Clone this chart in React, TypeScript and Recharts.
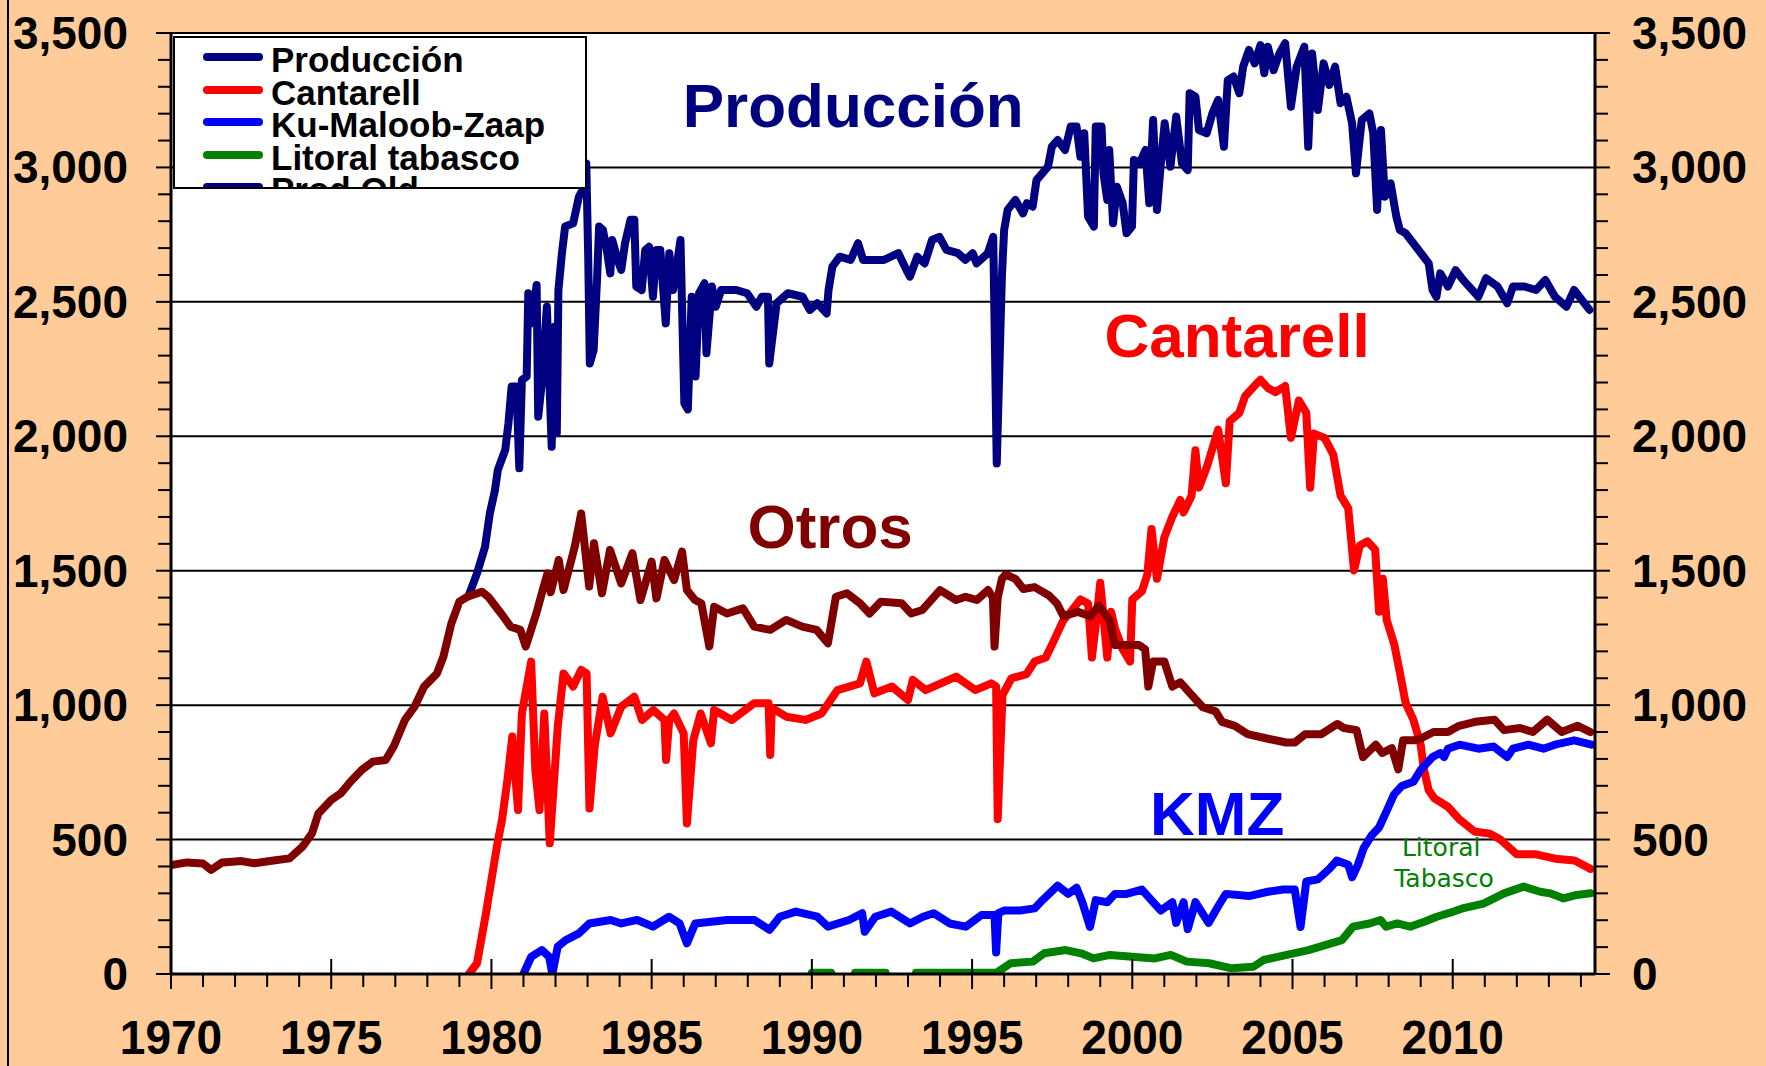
import { LineChart, Line, XAxis, YAxis, CartesianGrid, ReferenceLine, ReferenceDot } from 'recharts';

// [año, miles de barriles diarios]
const produccion: [number, number][] = [
  [1979.3, 1410], [1979.55, 1490], [1979.8, 1589], [1979.95, 1713], [1980.11, 1800], [1980.2, 1875],
  [1980.43, 1949], [1980.53, 2048], [1980.63, 2185], [1980.78, 2185], [1980.87, 1881], [1980.95, 2209],
  [1981.1, 2222], [1981.15, 2532], [1981.26, 2420], [1981.41, 2563], [1981.46, 2073], [1981.57, 2197],
  [1981.73, 2482], [1981.88, 1961], [1981.98, 2408], [1982.04, 2011], [1982.09, 2544], [1982.2, 2681],
  [1982.3, 2780], [1982.55, 2792], [1982.73, 2891], [1982.84, 2916], [1982.96, 3015], [1983.02, 2668],
  [1983.07, 2271], [1983.19, 2321], [1983.3, 2594], [1983.36, 2780], [1983.48, 2767], [1983.6, 2693],
  [1983.71, 2606], [1983.77, 2730], [1983.94, 2656], [1984.05, 2619], [1984.17, 2718], [1984.34, 2805],
  [1984.46, 2805], [1984.52, 2557], [1984.69, 2544], [1984.8, 2693], [1984.92, 2705], [1985.04, 2519],
  [1985.15, 2693], [1985.27, 2693], [1985.44, 2420], [1985.55, 2681], [1985.67, 2544], [1985.9, 2730],
  [1986.02, 2123], [1986.13, 2100], [1986.25, 2519], [1986.37, 2222], [1986.48, 2532], [1986.65, 2569],
  [1986.71, 2309], [1986.88, 2557], [1987.0, 2482], [1987.17, 2544], [1987.64, 2544], [1987.98, 2532],
  [1988.27, 2482], [1988.44, 2519], [1988.63, 2519], [1988.67, 2271], [1988.9, 2495], [1989.25, 2532],
  [1989.71, 2519], [1989.94, 2470], [1990.17, 2495], [1990.46, 2457], [1990.52, 2544], [1990.64, 2631],
  [1990.87, 2668], [1991.21, 2656], [1991.44, 2718], [1991.6, 2656], [1992.25, 2656], [1992.7, 2681],
  [1992.95, 2619], [1993.06, 2594], [1993.29, 2668], [1993.52, 2643], [1993.75, 2730], [1993.98, 2742],
  [1994.2, 2693], [1994.56, 2681], [1994.79, 2656], [1995.02, 2681], [1995.14, 2643], [1995.49, 2681],
  [1995.66, 2742], [1995.77, 1899], [1995.93, 2594], [1996.0, 2767], [1996.11, 2842], [1996.35, 2879],
  [1996.59, 2829], [1996.71, 2867], [1996.89, 2854], [1997.01, 2953], [1997.19, 2978], [1997.37, 3003],
  [1997.49, 3077], [1997.67, 3102], [1997.9, 3065], [1998.08, 3152], [1998.26, 3152], [1998.38, 3040],
  [1998.5, 3127], [1998.62, 2817], [1998.8, 2780], [1998.86, 3152], [1999.04, 3152], [1999.1, 2978],
  [1999.22, 2879], [1999.28, 3065], [1999.4, 2792], [1999.52, 2928], [1999.7, 2867], [1999.82, 2755],
  [1999.99, 2780], [2000.05, 3028], [2000.23, 3015], [2000.41, 3065], [2000.53, 2867], [2000.65, 3176],
  [2000.77, 2842], [2000.89, 3015], [2001.01, 3164], [2001.19, 3003], [2001.37, 3189], [2001.55, 3015],
  [2001.73, 2990], [2001.79, 3276], [2001.97, 3263], [2002.08, 3139], [2002.32, 3127], [2002.5, 3201],
  [2002.68, 3251], [2002.86, 3077], [2002.98, 3325], [2003.16, 3338], [2003.34, 3276], [2003.46, 3375],
  [2003.64, 3437], [2003.82, 3387], [2004.0, 3455], [2004.12, 3350], [2004.23, 3449], [2004.41, 3362],
  [2004.59, 3424], [2004.77, 3462], [2004.95, 3226], [2005.13, 3375], [2005.37, 3449], [2005.49, 3077],
  [2005.61, 3424], [2005.79, 3214], [2005.97, 3387], [2006.15, 3307], [2006.33, 3375], [2006.5, 3239],
  [2006.68, 3263], [2006.86, 3164], [2006.98, 2978], [2007.16, 3176], [2007.4, 3201], [2007.52, 3127],
  [2007.64, 2842], [2007.76, 3139], [2007.88, 2891], [2008.06, 2941], [2008.24, 2817], [2008.35, 2767],
  [2008.53, 2755], [2008.77, 2718], [2009.01, 2681], [2009.25, 2643], [2009.37, 2544], [2009.49, 2519],
  [2009.61, 2606], [2009.85, 2557], [2010.09, 2618], [2010.33, 2581], [2010.8, 2519], [2011.04, 2588],
  [2011.4, 2557], [2011.7, 2495], [2011.88, 2557], [2012.24, 2557], [2012.6, 2544], [2012.89, 2581],
  [2013.19, 2519], [2013.55, 2482], [2013.79, 2544], [2014.03, 2507], [2014.27, 2470],
];

const cantarell: [number, number][] = [
  [1979.3, 0], [1979.55, 40], [1979.83, 226], [1980.0, 350], [1980.17, 474], [1980.33, 573], [1980.5, 722],
  [1980.65, 883], [1980.83, 610], [1980.95, 969], [1981.24, 1162], [1981.37, 759], [1981.5, 610],
  [1981.65, 969], [1981.82, 486], [1982.07, 920], [1982.25, 1118], [1982.55, 1069], [1982.8, 1131],
  [1982.97, 1118], [1983.06, 616], [1983.22, 846], [1983.47, 1031], [1983.72, 895], [1984.05, 994],
  [1984.46, 1031], [1984.7, 945], [1985.05, 982], [1985.4, 945], [1985.45, 796], [1985.55, 945],
  [1985.7, 969], [1986.0, 895], [1986.1, 560], [1986.3, 870], [1986.53, 969], [1986.85, 858],
  [1986.95, 982], [1987.5, 945], [1988.2, 1007], [1988.65, 1007], [1988.7, 815], [1988.75, 990],
  [1989.2, 957], [1989.8, 945], [1990.3, 969], [1990.8, 1056], [1991.5, 1081], [1991.7, 1162],
  [1991.95, 1044], [1992.5, 1069], [1993.0, 1019], [1993.15, 1094], [1993.55, 1056], [1994.5, 1106],
  [1995.1, 1056], [1995.6, 1081], [1995.75, 1070], [1995.8, 576], [1995.95, 1038], [1996.23, 1100],
  [1996.7, 1115], [1996.95, 1162], [1997.3, 1177], [1997.55, 1239], [1997.85, 1316], [1998.08, 1347],
  [1998.38, 1393], [1998.62, 1378], [1998.74, 1177], [1998.92, 1362], [1999.0, 1455], [1999.22, 1177],
  [1999.34, 1347], [1999.46, 1285], [1999.7, 1208], [1999.93, 1162], [2000.0, 1393], [2000.3, 1424],
  [2000.47, 1486], [2000.6, 1655], [2000.77, 1470], [2001.0, 1624], [2001.25, 1701], [2001.5, 1763],
  [2001.6, 1717], [2001.85, 1779], [2001.97, 1948], [2002.08, 1809], [2002.33, 1887], [2002.68, 2025],
  [2002.92, 1825], [2003.04, 2056], [2003.34, 2087], [2003.52, 2149], [2003.87, 2195], [2004.0, 2210],
  [2004.23, 2180], [2004.47, 2164], [2004.77, 2187], [2004.95, 1994], [2005.2, 2133], [2005.43, 2087],
  [2005.55, 1809], [2005.67, 2010], [2006.0, 1994], [2006.27, 1933], [2006.5, 1779], [2006.74, 1732],
  [2006.92, 1501], [2007.1, 1594], [2007.34, 1609], [2007.58, 1578], [2007.7, 1347], [2007.82, 1470],
  [2007.94, 1316], [2008.18, 1224], [2008.36, 1115], [2008.53, 1008], [2008.77, 946], [2009.0, 853],
  [2009.1, 761], [2009.25, 684], [2009.43, 653], [2009.85, 622], [2010.2, 576], [2010.68, 530],
  [2011.16, 522], [2011.5, 499], [2012.0, 445], [2012.6, 445], [2013.2, 429], [2013.8, 422], [2014.3, 391],
];

const kmz: [number, number][] = [
  [1981.0, 0], [1981.24, 64], [1981.57, 89], [1981.8, 64], [1981.9, 0], [1982.07, 102], [1982.32, 126],
  [1982.73, 151], [1983.06, 188], [1983.72, 201], [1984.05, 188], [1984.55, 201], [1985.04, 176],
  [1985.54, 213], [1985.87, 188], [1986.1, 114], [1986.36, 188], [1987.36, 201], [1988.2, 201],
  [1988.68, 164], [1989.0, 213], [1989.5, 232], [1990.17, 213], [1990.5, 176], [1991.16, 201],
  [1991.57, 226], [1991.65, 157], [1991.98, 213], [1992.48, 232], [1993.06, 188], [1993.47, 213],
  [1993.8, 226], [1994.3, 188], [1994.8, 176], [1995.29, 219], [1995.7, 219], [1995.75, 80],
  [1995.82, 226], [1996.0, 236], [1996.5, 236], [1996.95, 244], [1997.2, 275], [1997.67, 329],
  [1998.0, 298], [1998.26, 321], [1998.44, 267], [1998.68, 175], [1998.86, 275], [1999.22, 267],
  [1999.46, 298], [1999.82, 298], [2000.3, 314], [2000.65, 267], [2000.89, 236], [2001.25, 267],
  [2001.37, 190], [2001.6, 267], [2001.73, 167], [2001.97, 267], [2002.38, 190], [2002.68, 252],
  [2002.92, 298], [2003.64, 290], [2004.23, 306], [2004.71, 314], [2005.07, 314], [2005.25, 175],
  [2005.43, 344], [2005.79, 352], [2006.15, 391], [2006.38, 422], [2006.74, 406], [2006.86, 360],
  [2007.04, 406], [2007.22, 468], [2007.46, 514], [2007.7, 545], [2007.94, 607], [2008.17, 668],
  [2008.41, 699], [2008.77, 715], [2009.01, 761], [2009.37, 807], [2009.61, 822], [2009.73, 807],
  [2009.85, 838], [2010.21, 853], [2010.8, 838], [2011.28, 846], [2011.7, 807], [2011.88, 838],
  [2012.36, 853], [2012.83, 838], [2013.19, 853], [2013.79, 869], [2014.33, 853],
];

const litoral: [number, number | null][] = [
  [1990.0, 5], [1990.6, 5], [1990.9, null], [1991.35, 5], [1992.3, 5], [1992.8, null], [1993.25, 5],
  [1995.77, 5], [1996.2, 40], [1996.89, 46], [1997.25, 77], [1997.92, 89], [1998.4, 77], [1998.79, 58],
  [1999.3, 71], [2000.0, 64], [2000.7, 58], [2001.2, 71], [2001.7, 46], [2002.4, 40], [2003.1, 21],
  [2003.78, 27], [2004.1, 52], [2004.82, 71], [2005.5, 89], [2006.2, 114], [2006.54, 126], [2006.89, 176],
  [2007.4, 188], [2007.75, 201], [2007.92, 176], [2008.27, 188], [2008.67, 176], [2009.13, 195],
  [2009.5, 213], [2009.92, 228], [2010.3, 244], [2010.96, 262], [2011.6, 300], [2012.21, 325],
  [2012.73, 306], [2013.04, 300], [2013.46, 281], [2013.87, 294], [2014.3, 300],
];

const otros: [number, number][] = [
  [1970.0, 405], [1970.5, 415], [1971.0, 411], [1971.25, 387], [1971.6, 415], [1972.2, 420], [1972.6, 412],
  [1973.2, 422], [1973.7, 430], [1974.1, 473], [1974.4, 523], [1974.6, 597], [1975.0, 647], [1975.3, 672],
  [1975.6, 715], [1975.95, 759], [1976.3, 790], [1976.7, 796], [1976.95, 846], [1977.3, 945],
  [1977.6, 994], [1977.9, 1069], [1978.3, 1118], [1978.5, 1180], [1978.75, 1304], [1979.0, 1385],
  [1979.25, 1403], [1979.7, 1422], [1979.9, 1403], [1980.3, 1341], [1980.6, 1292], [1980.9, 1280],
  [1981.07, 1218], [1981.4, 1341], [1981.6, 1428], [1981.75, 1490], [1981.85, 1420], [1982.1, 1540],
  [1982.25, 1428], [1982.6, 1589], [1982.8, 1713], [1983.05, 1441], [1983.2, 1602], [1983.45, 1416],
  [1983.7, 1577], [1984.05, 1453], [1984.4, 1565], [1984.65, 1391], [1985.0, 1534], [1985.15, 1397],
  [1985.4, 1540], [1985.7, 1465], [1985.95, 1571], [1986.1, 1428], [1986.35, 1391], [1986.55, 1379],
  [1986.8, 1218], [1986.95, 1366], [1987.35, 1341], [1987.85, 1360], [1988.2, 1292], [1988.7, 1280],
  [1989.2, 1317], [1989.7, 1292], [1990.15, 1280], [1990.5, 1230], [1990.75, 1403], [1991.1, 1416],
  [1991.5, 1379], [1991.8, 1341], [1992.15, 1385], [1992.8, 1379], [1993.1, 1341], [1993.45, 1354],
  [1994.0, 1428], [1994.5, 1391], [1994.8, 1403], [1995.15, 1391], [1995.5, 1428], [1995.65, 1400],
  [1995.7, 1218], [1995.8, 1400], [1995.93, 1470], [1996.05, 1486], [1996.35, 1470], [1996.6, 1432],
  [1996.95, 1439], [1997.4, 1408], [1997.65, 1378], [1997.85, 1331], [1998.3, 1347], [1998.7, 1331],
  [1998.95, 1370], [1999.3, 1316], [1999.45, 1224], [1999.7, 1224], [2000.2, 1224], [2000.4, 1208],
  [2000.5, 1069], [2000.65, 1162], [2001.0, 1162], [2001.25, 1069], [2001.5, 1085], [2001.85, 1038],
  [2002.2, 992], [2002.6, 977], [2002.8, 938], [2003.2, 923], [2003.6, 892], [2004.2, 876],
  [2004.8, 861], [2005.07, 861], [2005.4, 892], [2005.9, 892], [2006.4, 930], [2006.6, 915],
  [2007.0, 907], [2007.2, 807], [2007.6, 853], [2007.8, 822], [2008.1, 840], [2008.3, 761],
  [2008.45, 869], [2008.8, 869], [2009.0, 876], [2009.4, 900], [2009.85, 900], [2010.2, 923],
  [2010.7, 938], [2011.3, 946], [2011.6, 907], [2012.1, 915], [2012.5, 900], [2012.95, 946],
  [2013.4, 900], [2013.9, 923], [2014.3, 900],
];

const yearTicks = Array.from({ length: 45 }, (_, i) => 1970 + i);
const valueTicks = Array.from({ length: 36 }, (_, i) => i * 100);
const gridValues = [500, 1000, 1500, 2000, 2500, 3000, 3500];

const legendItems = [
  { name: 'Producción', color: '#000080' },
  { name: 'Cantarell', color: '#FF0000' },
  { name: 'Ku-Maloob-Zaap', color: '#0000FF' },
  { name: 'Litoral tabasco', color: '#008000' },
  { name: 'Prod Old', color: '#000080' },
];

const notes = [
  { text: 'Producción', x: 1991.29, y: 3232, color: '#000080', size: 62, bold: true },
  { text: 'Cantarell', x: 2003.27, y: 2377, color: '#FF0000', size: 62, bold: true },
  { text: 'Otros', x: 1990.57, y: 1668, color: '#800000', size: 62, bold: true },
  { text: 'KMZ', x: 2002.65, y: 599, color: '#0000FF', size: 62, bold: true },
  { text: 'Litoral', x: 2009.64, y: 472, color: '#008000', size: 25, bold: false },
  { text: 'Tabasco', x: 2009.73, y: 357, color: '#008000', size: 25, bold: false },
];

const FONT = 'Arial, "Liberation Sans", sans-serif';

const toRows = (pts: [number, number | null][]) => pts.map(([x, v]) => ({ x, v }));

const series = [
  { key: 'produccion', data: toRows(produccion), color: '#000080' },
  { key: 'cantarell', data: toRows(cantarell), color: '#FF0000' },
  { key: 'kmz', data: toRows(kmz), color: '#0000FF' },
  { key: 'litoral', data: toRows(litoral), color: '#008000' },
  { key: 'otros', data: toRows(otros), color: '#800000' },
];

// eslint-disable-next-line @typescript-eslint/no-explicit-any
const XTick = ({ x, y, payload }: any) => {
  const yr = payload.value;
  const major = yr % 5 === 0;
  return (
    <g>
      <line x1={x} x2={x} y1={major ? y - 15 : y} y2={major ? y + 15 : y + 13} stroke="#000" strokeWidth={2} />
      {major && (
        <text
          transform={`translate(${x} ${y + 80}) scale(1 1.06)`}
          textAnchor="middle"
          fontFamily={FONT}
          fontWeight="bold"
          fontSize={46}
          fill="#000"
        >
          {yr}
        </text>
      )}
    </g>
  );
};

// eslint-disable-next-line @typescript-eslint/no-explicit-any
const YTick = ({ x, y, payload, side }: any) => {
  const v = payload.value;
  const major = v % 500 === 0;
  const len = major ? 15 : 13;
  const dir = side === 'left' ? -1 : 1;
  return (
    <g>
      <line x1={x} x2={x + dir * len} y1={y} y2={y} stroke="#000" strokeWidth={2} />
      {major && (
        <text
          x={side === 'left' ? x - 43 : x + 37}
          y={y + 16}
          textAnchor={side === 'left' ? 'end' : 'start'}
          fontFamily={FONT}
          fontWeight="bold"
          fontSize={46}
          fill="#000"
        >
          {v.toLocaleString('en-US')}
        </text>
      )}
    </g>
  );
};

export default function App() {
  return (
    <div style={{ position: 'absolute', left: 0, top: 0, width: 1766, height: 1066, background: '#FFCC99', overflow: 'hidden' }}>
      <div style={{ position: 'absolute', left: 7, top: 0, width: 2, height: 1066, background: '#000' }} />
      <LineChart width={1766} height={1066} margin={{ top: 33, right: 11, bottom: 12, left: 11 }}>
        <CartesianGrid fill="#FFFFFF" horizontal={false} vertical={false} />
        <XAxis
          dataKey="x"
          type="number"
          domain={[1970, 2014.44]}
          allowDataOverflow
          ticks={yearTicks}
          interval={0}
          height={80}
          tickSize={0}
          tickMargin={0}
          tickLine={false}
          axisLine={{ stroke: '#000', strokeWidth: 3 }}
          tick={<XTick />}
        />
        <YAxis
          yAxisId="left"
          orientation="left"
          type="number"
          domain={[0, 3500]}
          allowDataOverflow
          ticks={valueTicks}
          interval={0}
          width={160}
          tickSize={0}
          tickMargin={0}
          tickLine={false}
          axisLine={{ stroke: '#000', strokeWidth: 3 }}
          tick={<YTick side="left" />}
        />
        <YAxis
          yAxisId="right"
          orientation="right"
          type="number"
          domain={[0, 3500]}
          allowDataOverflow
          ticks={valueTicks}
          interval={0}
          width={160}
          tickSize={0}
          tickMargin={0}
          tickLine={false}
          axisLine={{ stroke: '#000', strokeWidth: 3 }}
          tick={<YTick side="right" />}
        />
        {gridValues.map((g) => (
          <ReferenceLine key={g} yAxisId="left" y={g} stroke="#000" strokeWidth={2} />
        ))}
        {series.map((s) => (
          <Line
            key={s.key}
            yAxisId="left"
            data={s.data}
            dataKey="v"
            type="linear"
            stroke={s.color}
            strokeWidth={8}
            strokeLinejoin="round"
            strokeLinecap="round"
            dot={false}
            activeDot={false}
            connectNulls={false}
            isAnimationActive={false}
          />
        ))}
        {notes.map((n) => (
          <ReferenceDot
            key={n.text}
            yAxisId="left"
            x={n.x}
            y={n.y}
            r={0}
            fill="none"
            stroke="none"
            label={{
              value: n.text,
              position: 'center',
              fill: n.color,
              fontSize: n.size,
              fontWeight: n.bold ? 'bold' : 'normal',
              fontFamily: n.bold ? FONT : '"DejaVu Sans", Verdana, sans-serif',
            }}
          />
        ))}
      </LineChart>
      <div
        style={{
          position: 'absolute',
          left: 173,
          top: 36,
          width: 414,
          height: 153,
          boxSizing: 'border-box',
          border: '2px solid #000',
          background: '#fff',
          overflow: 'hidden',
          fontFamily: FONT,
        }}
      >
        {legendItems.map((it, i) => {
          const cy = 19 + i * 32.5;
          return (
            <div key={it.name}>
              <div
                style={{
                  position: 'absolute',
                  left: 28,
                  top: cy - 4,
                  width: 60,
                  height: 8,
                  borderRadius: 4,
                  background: it.color,
                }}
              />
              <div
                style={{
                  position: 'absolute',
                  left: 96,
                  top: cy + 3 - 14.6,
                  fontSize: 35,
                  lineHeight: '30px',
                  height: 30,
                  fontWeight: 'bold',
                  whiteSpace: 'nowrap',
                  color: '#000',
                }}
              >
                {it.name}
              </div>
            </div>
          );
        })}
      </div>
    </div>
  );
}
